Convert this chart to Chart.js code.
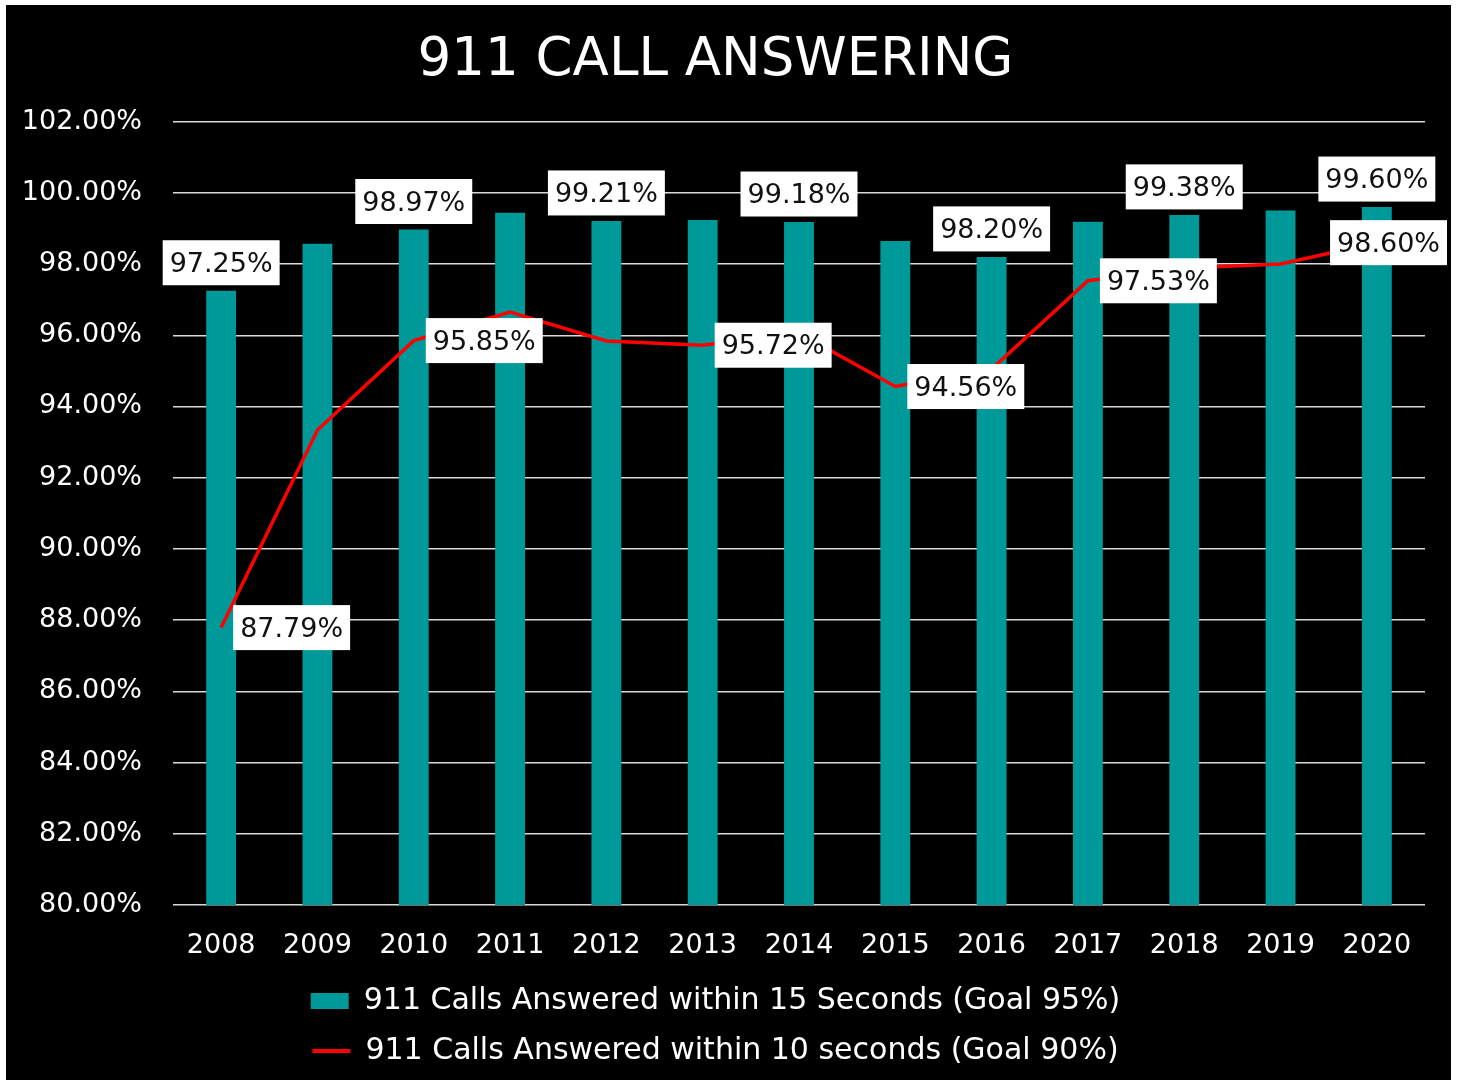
<!DOCTYPE html>
<html lang="en">
<head>
    <meta charset="UTF-8">
    <title>911 Call Answering</title>
    <script src="https://cdn.jsdelivr.net/npm/chart.js"></script>
    <style>
        html, body {
            margin: 0;
            padding: 0;
            background-color: #ffffff;
        }
        .chart-box {
            position: absolute;
            left: 6px;
            top: 5px;
            width: 1445px;
            height: 1075px;
            background-color: #000000;
        }
    </style>
</head>
<body>

<div class="chart-box">
    <canvas id="callChart"></canvas>
</div>

<script>
    const anos = ['2008', '2009', '2010', '2011', '2012', '2013', '2014', '2015', '2016', '2017', '2018', '2019', '2020'];
    const dentro15s = [97.25, 98.57, 98.97, 99.44, 99.21, 99.24, 99.18, 98.65, 98.20, 99.19, 99.38, 99.50, 99.60];
    const dentro10s = [87.79, 93.34, 95.85, 96.65, 95.84, 95.72, 96.06, 94.56, 95.05, 97.53, 97.89, 98.00, 98.60];
    const rotulosBarra = [0, 2, 4, 6, 8, 10, 12];
    const rotulosLinha = [0, 2, 5, 7, 9, 12];

    const fonte = '"DejaVu Sans", sans-serif';

    const rotulosPlugin = {
        id: 'rotulos',
        afterDatasetsDraw(chart) {
            const ctx = chart.ctx;
            ctx.save();
            ctx.font = '27px ' + fonte;
            ctx.textBaseline = 'middle';
            ctx.textAlign = 'left';
            const caixa = (texto, x, y) => {
                const w = ctx.measureText(texto).width + 14;
                const h = 45;
                let left = x;
                if (left + w > chart.width - 4) left = chart.width - 4 - w;
                ctx.fillStyle = '#ffffff';
                ctx.fillRect(left, y - h / 2, w, h);
                ctx.fillStyle = '#111111';
                ctx.fillText(texto, left + 7, y + 2);
            };
            const barras = chart.getDatasetMeta(0).data;
            rotulosBarra.forEach(i => {
                const el = barras[i];
                const texto = dentro15s[i].toFixed(2) + '%';
                const w = ctx.measureText(texto).width + 14;
                caixa(texto, el.x - w / 2, el.y - 6 - 22);
            });
            const pontos = chart.getDatasetMeta(1).data;
            rotulosLinha.forEach(i => {
                const el = pontos[i];
                caixa(dentro10s[i].toFixed(2) + '%', el.x + 12, el.y);
            });
            ctx.restore();
        }
    };

    const ctx = document.getElementById('callChart').getContext('2d');
    new Chart(ctx, {
        type: 'bar',
        data: {
            labels: anos,
            datasets: [{
                type: 'bar',
                label: '911 Calls Answered within 15 Seconds (Goal 95%)',
                data: dentro15s,
                backgroundColor: '#009999',
                categoryPercentage: 1,
                barPercentage: 0.31,
                order: 2
            }, {
                type: 'line',
                label: '911 Calls Answered within 10 seconds (Goal 90%)',
                data: dentro10s,
                borderColor: '#ff0000',
                backgroundColor: '#ff0000',
                borderWidth: 3.5,
                pointRadius: 0,
                tension: 0,
                fill: false,
                order: 1
            }]
        },
        options: {
            responsive: true,
            maintainAspectRatio: false,
            animation: false,
            layout: {
                padding: { left: 0, right: 26, top: 0, bottom: 4 }
            },
            plugins: {
                title: {
                    display: true,
                    text: '911 CALL ANSWERING',
                    color: '#ffffff',
                    font: { family: fonte, size: 53, weight: 'normal' },
                    padding: { top: 24, bottom: 29 }
                },
                legend: {
                    display: true,
                    position: 'bottom',
                    labels: {
                        color: '#ffffff',
                        font: { family: fonte, size: 30 },
                        usePointStyle: true,
                        pointStyleWidth: 38,
                        boxHeight: 16,
                        padding: 20,
                        generateLabels(chart) {
                            return chart.data.datasets.map((ds, i) => ({
                                text: ds.label,
                                fillStyle: ds.type === 'bar' ? '#009999' : '#ff0000',
                                strokeStyle: ds.type === 'bar' ? '#009999' : '#ff0000',
                                lineWidth: ds.type === 'bar' ? 0 : 4,
                                pointStyle: ds.type === 'bar' ? 'rect' : 'line',
                                fontColor: '#ffffff',
                                datasetIndex: i,
                                hidden: false
                            }));
                        }
                    }
                },
                tooltip: { enabled: false }
            },
            scales: {
                x: {
                    grid: { display: false },
                    border: { display: false },
                    afterFit(scale) { scale.height = 61; },
                    ticks: {
                        color: '#ffffff',
                        font: { family: fonte, size: 27 },
                        padding: 17,
                        maxRotation: 0
                    }
                },
                y: {
                    min: 80,
                    max: 102,
                    grid: { color: '#d9d9d9', lineWidth: 1.5, drawTicks: false },
                    border: { display: false },
                    afterFit(scale) { scale.width = 167; },
                    ticks: {
                        stepSize: 2,
                        color: '#ffffff',
                        font: { family: fonte, size: 27 },
                        padding: 31,
                        callback: v => v.toFixed(2) + '%'
                    }
                }
            }
        },
        plugins: [rotulosPlugin]
    });
</script>

</body>
</html>
